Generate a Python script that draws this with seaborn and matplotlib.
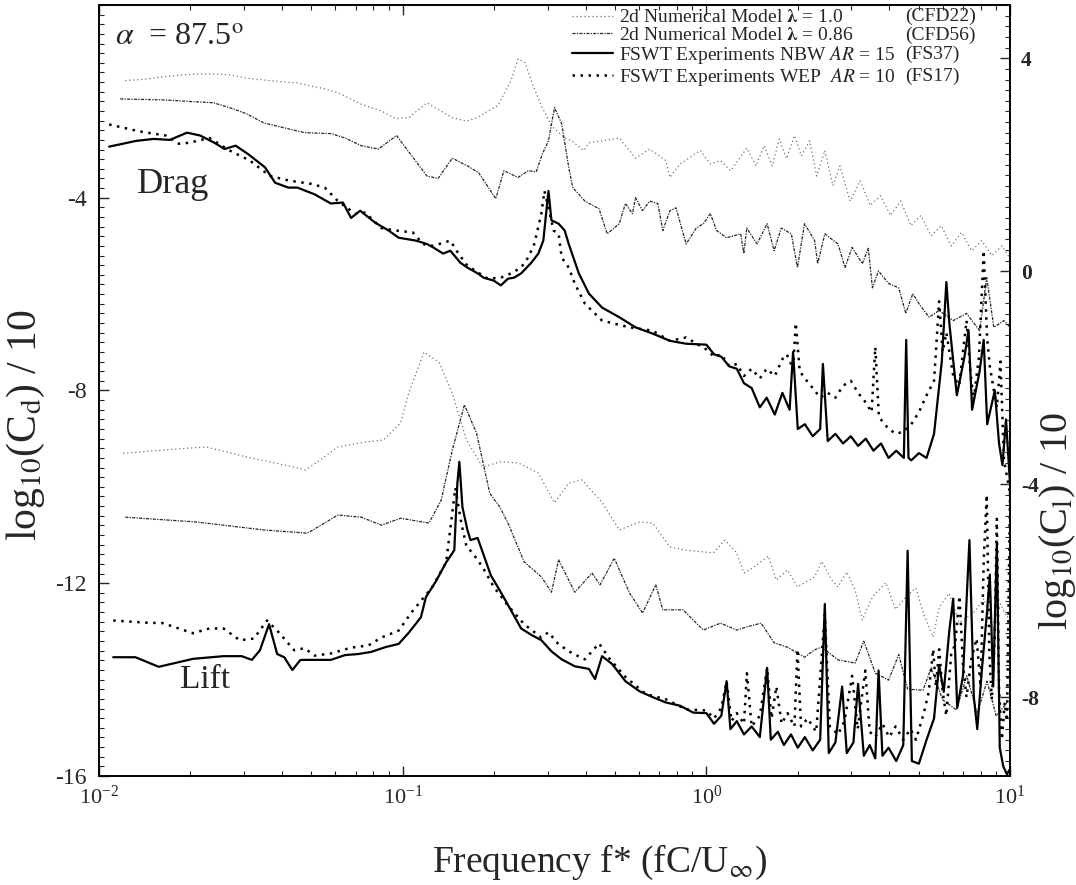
import matplotlib
matplotlib.use("Agg")
import matplotlib.pyplot as plt
import seaborn as sns
import pandas as pd
from matplotlib.ticker import MultipleLocator, LogLocator, NullFormatter

# -----------------------------
# 1. Data  (frequency f*, value)
# -----------------------------
# Drag spectra, left axis: log10(Cd)/10
drag_cfd22 = [(0.0122, -1.57), (0.0142, -1.54), (0.0162, -1.49), (0.0189, -1.45), (0.0214, -1.43),
              (0.0238, -1.43), (0.0269, -1.45), (0.0307, -1.52), (0.0366, -1.57), (0.045, -1.62),
              (0.0554, -1.74), (0.0612, -1.82), (0.073, -2.06), (0.0851, -2.20), (0.0948, -2.36),
              (0.1047, -2.34), (0.1202, -2.03), (0.1457, -2.34), (0.1622, -2.41), (0.1751, -2.34),
              (0.2057, -2.09), (0.2154, -1.85), (0.2274, -1.57), (0.2399, -1.12), (0.2531, -1.20),
              (0.2692, -1.68), (0.2862, -2.09), (0.309, -2.51), (0.3415, -2.76), (0.3603, -2.82),
              (0.3951, -3.02), (0.4105, -2.86), (0.4535, -2.82), (0.5168, -2.76), (0.5843, -3.18),
              (0.6506, -2.99), (0.7356, -3.23), (0.7586, -3.58), (0.819, -3.30), (0.955, -3.02),
              (1.031, -3.30), (1.113, -3.23), (1.202, -3.44), (1.359, -2.97), (1.457, -3.34),
              (1.549, -2.92), (1.647, -3.34), (1.738, -2.78), (1.834, -3.19), (1.95, -2.71),
              (2.057, -3.13), (2.188, -2.82), (2.308, -3.55), (2.455, -3.02), (2.611, -3.75),
              (2.754, -3.34), (2.974, -4.07), (3.212, -3.65), (3.467, -4.16), (3.744, -3.96),
              (4.044, -4.37), (4.365, -4.07), (4.714, -4.58), (5.091, -4.37), (5.495, -4.79),
              (5.933, -4.58), (6.408, -5.00), (6.918, -4.72), (7.471, -5.10), (8.067, -4.89),
              (8.71, -5.20), (9.404, -5.00), (10.0, -5.26)]

drag_cfd56 = [(0.01175, -1.95), (0.01622, -1.97), (0.02089, -2.01), (0.0238, -2.03), (0.02692, -2.13),
              (0.03067, -2.26), (0.03494, -2.45), (0.04074, -2.55), (0.0475, -2.65), (0.05798, -2.67),
              (0.06457, -2.76), (0.073, -2.92), (0.08318, -2.99), (0.0955, -2.71), (0.1039, -3.02),
              (0.1202, -3.55), (0.1308, -3.60), (0.1457, -3.18), (0.1634, -3.34), (0.1778, -3.48),
              (0.2026, -4.02), (0.2154, -3.44), (0.2399, -3.58), (0.259, -3.44), (0.2754, -3.46),
              (0.2884, -3.09), (0.302, -2.82), (0.3162, -2.13), (0.3338, -2.46), (0.3522, -3.37),
              (0.3631, -3.79), (0.3981, -4.07), (0.4433, -4.23), (0.4714, -4.75), (0.5168, -4.54),
              (0.5412, -4.12), (0.5711, -4.33), (0.5843, -4.00), (0.6166, -4.27), (0.6506, -4.07),
              (0.6918, -4.12), (0.7189, -4.68), (0.7586, -4.27), (0.7943, -4.21), (0.8577, -4.96),
              (0.9262, -4.63), (0.9772, -4.54), (1.031, -4.33), (1.08, -4.68), (1.166, -4.83),
              (1.298, -4.75), (1.328, -5.16), (1.359, -4.63), (1.468, -4.96), (1.585, -4.54),
              (1.672, -5.10), (1.765, -4.63), (1.905, -4.75), (1.995, -5.45), (2.105, -4.54),
              (2.273, -4.89), (2.326, -5.37), (2.455, -4.75), (2.713, -4.96), (2.862, -5.45),
              (3.02, -5.03), (3.262, -5.37), (3.415, -5.05), (3.522, -5.87), (3.687, -5.52),
              (3.981, -5.78), (4.299, -5.87), (4.536, -6.40), (4.786, -5.99), (5.012, -6.20),
              (5.412, -6.48), (5.843, -6.34), (6.506, -6.55), (7.189, -6.40), (7.943, -6.76),
              (8.38, -5.66), (8.843, -6.69), (9.55, -6.55), (10.0, -6.69)]

drag_fs37 = [(0.0108, -2.94), (0.01328, -2.82), (0.01514, -2.78), (0.01711, -2.80), (0.0195, -2.65),
             (0.02154, -2.71), (0.02399, -2.86), (0.0259, -2.99), (0.02818, -2.92), (0.0309, -3.09),
             (0.03522, -3.37), (0.03802, -3.69), (0.042, -3.79), (0.045, -3.79), (0.05129, -3.93),
             (0.05798, -4.12), (0.06358, -4.10), (0.06761, -4.42), (0.07244, -4.27), (0.08128, -4.52),
             (0.08983, -4.68), (0.09698, -4.83), (0.1105, -4.89), (0.1202, -4.96), (0.1259, -5.03),
             (0.1359, -5.16), (0.1435, -5.10), (0.1549, -5.35), (0.1634, -5.45), (0.1765, -5.57),
             (0.1848, -5.66), (0.1995, -5.72), (0.2105, -5.82), (0.2222, -5.68), (0.2326, -5.66),
             (0.2455, -5.57), (0.2651, -5.35), (0.2797, -5.16), (0.2905, -4.89), (0.302, -3.86),
             (0.309, -4.47), (0.3262, -4.54), (0.3415, -4.68), (0.3522, -4.96), (0.3802, -5.57),
             (0.4105, -5.99), (0.4535, -6.28), (0.5168, -6.48), (0.5843, -6.69), (0.6657, -6.82),
             (0.7586, -6.97), (0.8577, -7.03), (1.0, -7.05), (1.06, -7.25), (1.12, -7.30),
             (1.19, -7.50), (1.26, -7.55), (1.33, -7.85), (1.41, -7.95), (1.5, -8.35),
             (1.58, -8.15), (1.68, -8.50), (1.78, -8.05), (1.88, -8.40), (1.93, -7.20),
             (2.0, -8.80), (2.11, -8.70), (2.24, -8.95), (2.37, -8.80), (2.42, -7.45),
             (2.51, -9.05), (2.66, -8.90), (2.82, -9.10), (2.99, -8.95), (3.16, -9.15),
             (3.35, -9.00), (3.55, -9.25), (3.76, -9.10), (3.98, -9.40), (4.22, -9.25),
             (4.47, -9.40), (4.55, -6.95), (4.63, -9.40), (4.73, -9.45), (5.01, -9.30),
             (5.31, -9.40), (5.62, -8.90), (5.96, -7.40), (6.17, -5.75), (6.31, -6.60),
             (6.68, -8.10), (7.08, -7.30), (7.3, -6.75), (7.5, -8.40), (7.94, -7.60),
             (8.19, -6.95), (8.41, -8.70), (8.91, -8.00), (9.2, -9.10), (9.44, -9.55),
             (9.7, -8.60), (10.0, -9.95)]

drag_fs17 = [(0.0108, -2.48), (0.01349, -2.62), (0.0166, -2.71), (0.01833, -2.88), (0.0198, -2.86),
             (0.02309, -2.76), (0.02692, -3.02), (0.03139, -3.23), (0.03659, -3.55), (0.04266, -3.65),
             (0.04973, -3.71), (0.05537, -3.79), (0.06119, -4.07), (0.0697, -4.33), (0.07527, -4.31),
             (0.08511, -4.63), (0.09478, -4.68), (0.108, -4.72), (0.1166, -4.96), (0.1259, -5.00),
             (0.1435, -4.89), (0.1526, -5.16), (0.1634, -5.41), (0.1905, -5.68), (0.2105, -5.66),
             (0.2274, -5.57), (0.2455, -5.45), (0.259, -5.24), (0.2713, -4.96), (0.2862, -4.33),
             (0.2929, -3.86), (0.302, -4.21), (0.3139, -4.68), (0.3262, -4.75), (0.3338, -5.24),
             (0.3522, -5.45), (0.3687, -5.78), (0.3981, -6.20), (0.4535, -6.55), (0.558, -6.69),
             (0.6657, -6.76), (0.7586, -6.97), (0.8577, -6.90), (1.0, -7.15), (1.06, -7.30),
             (1.12, -7.25), (1.19, -7.50), (1.26, -7.45), (1.33, -7.70), (1.41, -7.55),
             (1.5, -7.75), (1.58, -7.55), (1.68, -7.70), (1.78, -7.35), (1.84, -7.25),
             (1.93, -7.55), (1.97, -6.60), (2.03, -7.60), (2.11, -7.75), (2.24, -7.95),
             (2.37, -8.15), (2.51, -8.05), (2.66, -8.15), (2.82, -7.90), (2.99, -7.80),
             (3.16, -8.05), (3.35, -8.25), (3.5, -8.45), (3.6, -7.10), (3.7, -8.55),
             (3.98, -8.80), (4.22, -8.90), (4.47, -8.85), (4.73, -8.70), (5.01, -8.45),
             (5.31, -8.10), (5.62, -7.80), (5.84, -6.15), (6.0, -7.20), (6.17, -6.80),
             (6.5, -7.70), (6.8, -7.90), (7.19, -6.55), (7.4, -7.60), (7.59, -8.20),
             (7.9, -7.30), (8.19, -5.10), (8.4, -6.90), (8.58, -7.50), (8.9, -8.10),
             (9.05, -8.35), (9.3, -7.40), (9.55, -9.45), (10.0, -10.14)]

# Lift spectra, right axis: log10(Cl)/10
lift_cfd22 = [(0.01202, -3.42), (0.01622, -3.36), (0.02256, -3.30), (0.03067, -3.49), (0.04074, -3.64),
              (0.04786, -3.73), (0.05248, -3.58), (0.06119, -3.30), (0.07527, -3.21), (0.08646, -3.17),
              (0.09848, -2.85), (0.1047, -2.29), (0.1175, -1.52), (0.1318, -1.71), (0.1457, -2.29),
              (0.1622, -3.17), (0.1834, -3.68), (0.2089, -3.58), (0.2399, -3.60), (0.2797, -3.79),
              (0.3162, -4.35), (0.3522, -3.98), (0.389, -3.92), (0.4535, -4.34), (0.5168, -4.86),
              (0.6026, -4.71), (0.6657, -4.73), (0.7586, -5.18), (0.8577, -5.24), (1.055, -5.29),
              (1.15, -5.05), (1.259, -5.29), (1.328, -5.67), (1.435, -5.56), (1.6, -5.35),
              (1.7, -5.80), (1.848, -5.61), (1.995, -5.93), (2.273, -5.74), (2.4, -5.45),
              (2.59, -5.80), (2.713, -5.93), (2.9, -5.65), (3.09, -5.99), (3.262, -6.55),
              (3.522, -6.12), (3.9, -5.85), (4.2, -6.35), (4.536, -6.12), (4.9, -5.95),
              (5.2, -6.45), (5.583, -6.87), (5.843, -6.31), (6.3, -6.05), (6.8, -6.60),
              (7.586, -6.42), (8.2, -6.15), (8.8, -6.70), (9.3, -6.25), (9.772, -6.50), (10.0, -6.46)]

lift_cfd56 = [(0.01221, -4.62), (0.02089, -4.71), (0.03494, -4.86), (0.04861, -4.92), (0.06119, -4.58),
              (0.073, -4.62), (0.08511, -4.77), (0.09848, -4.64), (0.1221, -4.73), (0.1339, -4.30),
              (0.1457, -3.36), (0.1597, -2.51), (0.1751, -3.04), (0.1935, -4.17), (0.2089, -4.43),
              (0.2222, -4.73), (0.2512, -5.46), (0.2862, -5.74), (0.309, -6.03), (0.3262, -5.42),
              (0.3687, -6.03), (0.4201, -5.67), (0.4467, -5.89), (0.4973, -5.39), (0.558, -6.04),
              (0.6166, -6.42), (0.6813, -5.89), (0.7189, -6.36), (0.8381, -6.36), (0.9772, -6.74),
              (1.113, -6.61), (1.259, -6.74), (1.359, -6.68), (1.514, -6.61), (1.672, -6.98),
              (1.848, -7.06), (2.105, -7.25), (2.273, -7.11), (2.399, -7.06), (2.713, -7.30),
              (3.09, -7.36), (3.3, -6.95), (3.6, -7.55), (3.981, -7.68), (4.3, -7.20),
              (4.6, -7.85), (5.168, -7.87), (5.5, -7.45), (6.0, -8.05), (6.661, -8.24),
              (7.2, -7.60), (7.8, -8.30), (8.4, -7.70), (9.0, -8.35), (9.772, -8.11)]

lift_fs37 = [(0.01114, -7.25), (0.01318, -7.25), (0.01573, -7.43), (0.02042, -7.28), (0.0257, -7.23),
             (0.02951, -7.23), (0.03187, -7.30), (0.03388, -7.12), (0.03631, -6.63), (0.03861, -7.19),
             (0.04074, -7.25), (0.04332, -7.49), (0.04607, -7.30), (0.05248, -7.30), (0.05798, -7.30),
             (0.06457, -7.21), (0.07137, -7.19), (0.0788, -7.15), (0.08777, -7.06), (0.09698, -7.00),
             (0.1047, -6.79), (0.1148, -6.50), (0.1193, -6.12), (0.1288, -5.82), (0.139, -5.47),
             (0.1479, -5.24), (0.1514, -3.98), (0.1537, -3.58), (0.1573, -4.43), (0.1634, -4.86),
             (0.1672, -5.05), (0.1765, -5.01), (0.1848, -5.33), (0.195, -5.71), (0.2105, -6.03),
             (0.2274, -6.37), (0.2455, -6.71), (0.2651, -6.83), (0.2862, -6.93), (0.309, -7.14),
             (0.3338, -7.29), (0.3687, -7.42), (0.4105, -7.47), (0.4299, -7.66), (0.4535, -7.23),
             (0.4898, -7.38), (0.5412, -7.70), (0.6026, -7.89), (0.6657, -8.00), (0.7356, -8.10),
             (0.819, -8.16), (0.905, -8.29), (1.0, -8.30), (1.06, -8.50), (1.12, -8.35),
             (1.166, -7.70), (1.2, -8.60), (1.26, -8.45), (1.33, -8.70), (1.41, -8.55),
             (1.5, -8.75), (1.585, -7.45), (1.63, -8.80), (1.72, -8.65), (1.8, -8.90),
             (1.9, -8.70), (2.0, -8.95), (2.11, -8.75), (2.24, -9.00), (2.37, -8.80),
             (2.455, -6.25), (2.53, -9.05), (2.66, -8.85), (2.8, -7.80), (2.9, -9.05),
             (3.05, -8.85), (3.16, -7.75), (3.3, -9.10), (3.45, -8.90), (3.6, -9.15),
             (3.69, -7.50), (3.8, -9.10), (3.98, -8.95), (4.22, -9.20), (4.45, -8.90),
             (4.6, -5.25), (4.75, -9.20), (5.01, -9.25), (5.31, -8.80), (5.62, -8.40),
             (5.84, -7.40), (6.05, -7.90), (6.31, -6.75), (6.5, -6.15), (6.7, -8.20),
             (7.0, -7.60), (7.35, -5.05), (7.6, -8.00), (7.8, -8.60), (8.1, -7.40),
             (8.4, -6.40), (8.58, -5.70), (8.8, -7.80), (9.05, -5.10), (9.25, -8.95),
             (9.5, -9.30), (9.77, -9.45), (10.0, -9.35)]

lift_fs17 = [(0.01114, -6.56), (0.01423, -6.60), (0.01622, -6.61), (0.02042, -6.80), (0.02309, -6.71),
             (0.0257, -6.71), (0.02906, -6.93), (0.03236, -6.90), (0.03575, -6.56), (0.03861, -6.75),
             (0.04398, -7.12), (0.0475, -7.08), (0.05129, -7.22), (0.05798, -7.18), (0.06761, -7.07),
             (0.07703, -7.03), (0.08511, -6.88), (0.09698, -6.75), (0.1072, -6.40), (0.1249, -5.94),
             (0.139, -5.47), (0.1457, -4.53), (0.1491, -4.07), (0.1561, -4.74), (0.1622, -5.17),
             (0.1698, -5.29), (0.1834, -5.56), (0.1995, -5.93), (0.2222, -6.28), (0.2512, -6.63),
             (0.2862, -6.88), (0.302, -6.78), (0.3262, -7.01), (0.3603, -7.17), (0.3981, -7.29),
             (0.4433, -6.99), (0.4786, -7.27), (0.5412, -7.62), (0.631, -7.94), (0.7356, -8.04),
             (0.8577, -8.23), (1.0, -8.25), (1.06, -8.40), (1.12, -8.20), (1.166, -7.70),
             (1.21, -8.45), (1.26, -8.30), (1.33, -8.50), (1.36, -7.55), (1.41, -8.55),
             (1.5, -8.35), (1.585, -7.45), (1.64, -8.40), (1.7, -7.80), (1.77, -8.50),
             (1.85, -8.30), (1.95, -8.55), (1.995, -7.10), (2.05, -8.55), (2.154, -8.40),
             (2.3, -8.65), (2.455, -6.45), (2.55, -8.55), (2.713, -8.70), (2.85, -8.45),
             (3.02, -7.60), (3.15, -8.60), (3.337, -7.50), (3.45, -8.65), (3.6, -8.75),
             (3.8, -8.50), (4.0, -8.75), (4.2, -8.55), (4.45, -8.80), (4.7, -8.60),
             (4.9, -8.80), (5.2, -8.30), (5.4, -7.90), (5.583, -7.10), (5.7, -7.80),
             (5.843, -7.10), (6.0, -7.90), (6.166, -8.35), (6.4, -7.20), (6.6, -7.00),
             (6.813, -6.10), (7.0, -7.40), (7.189, -8.00), (7.45, -7.30), (7.762, -6.90),
             (8.0, -7.80), (8.19, -5.45), (8.38, -4.20), (8.55, -7.20), (8.71, -8.05),
             (8.9, -6.90), (9.048, -4.65), (9.2, -7.90), (9.404, -8.80), (9.6, -8.10),
             (9.772, -8.45), (10.0, -4.15)]

labels = ["2d Numerical Model $\\mathbf{\\lambda}$ = 1.0",
          "2d Numerical Model $\\mathbf{\\lambda}$ = 0.86",
          "FSWT Experiments NBW $\\mathit{AR}$ = 15",
          "FSWT Experiments WEP  $\\mathit{AR}$ = 10"]
run_ids = ["(CFD22)", "(CFD56)", "(FS37)", "(FS17)"]

# line style per run: (colour, width, dash pattern)
styles = [("0.45", 0.9, (0, (1, 2.2))),
          ("0.15", 0.9, (0, (2.5, 1, 1, 1))),
          ("black", 1.6, "-"),
          ("black", 1.8, (0, (1, 2.2)))]

# -----------------------------
# 2. Figure setup
# -----------------------------
sns.set_theme(style="ticks")
plt.rcParams['font.family'] = ['Liberation Serif', 'DejaVu Serif']
plt.rcParams['mathtext.fontset'] = 'stix'
plt.rcParams['xtick.direction'] = 'in'
plt.rcParams['ytick.direction'] = 'in'

fig = plt.figure(figsize=(10.76, 8.85), dpi=100)
ax = fig.add_axes([0.0920, 0.1232, 0.8467, 0.8712])
ax2 = ax.twinx()


def draw(axis, pts, style):
    df = pd.DataFrame(pts, columns=["f", "v"])
    color, lw, ls = style
    sns.lineplot(data=df, x="f", y="v", ax=axis, color=color, lw=lw, linestyle=ls,
                 estimator=None, sort=False, legend=False)
    return axis.lines[-1]


handles = []
for pts, st in zip([drag_cfd22, drag_cfd56, drag_fs37, drag_fs17], styles):
    handles.append(draw(ax, pts, st))
for pts, st in zip([lift_cfd22, lift_cfd56, lift_fs37, lift_fs17], styles):
    draw(ax2, pts, st)

# -----------------------------
# 3. Axes, ticks, labels
# -----------------------------
ax.set_xscale("log")
ax.set_xlim(0.01, 10)
ax.set_ylim(-16, 0)
ax2.set_ylim(-9.48, 5.0)

ax.set_yticks([-16, -12, -8, -4])
ax.set_yticklabels(["-16", "-12", "-8", "-4"])
ax.yaxis.set_minor_locator(MultipleLocator(0.2))
ax2.set_yticks([-8, -4, 0, 4])
ax2.set_yticklabels(["-8", "-4", "0", "4"], fontweight="bold")
ax2.yaxis.set_minor_locator(MultipleLocator(0.2))
ax.xaxis.set_major_locator(LogLocator(base=10, numticks=10))
ax.xaxis.set_minor_locator(LogLocator(base=10, subs=range(2, 10), numticks=20))
ax.xaxis.set_minor_formatter(NullFormatter())

ax.tick_params(axis="x", which="major", length=7, width=1, labelsize=16, top=True, pad=7)
ax.tick_params(axis="y", which="major", length=7, width=1, labelsize=17, pad=9)
ax.tick_params(axis="both", which="minor", length=3.5, width=0.8, top=True)
ax2.tick_params(axis="y", which="major", length=7, width=1, labelsize=15.5, pad=8)
ax2.tick_params(axis="y", which="minor", length=3.5, width=0.8)

for a in (ax, ax2):
    for sp in a.spines.values():
        sp.set_color("black")
        sp.set_linewidth(1.2)

ax.set_xlabel("Frequency f* (fC/U$_\\infty$)", fontsize=27)
ax.xaxis.set_label_coords(0.55, -0.112)
ax.xaxis.label.set_va("center")
ax.set_ylabel("log$_{10}$(C$_\\mathrm{d}$) / 10", fontsize=30)
ax.yaxis.set_label_coords(-0.08, 0.455)
ax.yaxis.label.set_va("center")
ax2.set_ylabel("log$_{10}$(C$_\\mathrm{l}$) / 10", fontsize=29)
ax2.yaxis.set_label_coords(1.052, 0.33)
ax2.yaxis.label.set_va("center")

# annotations
ax.text(0.0176, 0.958, "$\\alpha$  = 87.5$^\\mathrm{o}$", transform=ax.transAxes,
        fontsize=23, va="center", ha="left")
ax.text(0.042, 0.767, "Drag", transform=ax.transAxes, fontsize=26, va="center", ha="left")
ax.text(0.089, 0.1245, "Lift", transform=ax.transAxes, fontsize=24, va="center", ha="left")

leg = ax.legend(handles, labels, loc="upper left", bbox_to_anchor=(0.519, 0.995), frameon=False,
                fontsize=14, handlelength=2.1, handletextpad=0.35, labelspacing=0.0,
                borderaxespad=0.0, borderpad=0.0)
row_y = [0.9857, 0.9610, 0.9364, 0.9079]
for ry, rid in zip(row_y, run_ids):
    ax.text(0.885, ry, rid, transform=ax.transAxes, fontsize=14, va="center", ha="left")

fig.savefig("out.png", dpi=100)
